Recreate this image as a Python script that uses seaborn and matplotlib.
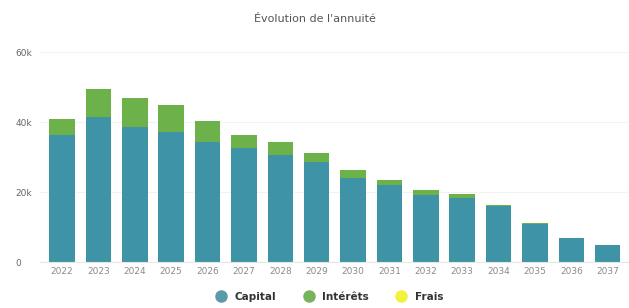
import matplotlib
matplotlib.use("Agg")
import matplotlib.pyplot as plt
from matplotlib.lines import Line2D
import seaborn as sns
import pandas as pd

years = [str(y) for y in range(2022, 2038)]
capital = [36.3, 41.4, 38.6, 37.1, 34.3, 32.6, 30.6, 28.6, 24.0, 22.0, 19.1, 18.3, 16.0, 11.0, 6.9, 4.9]
interets = [4.6, 8.0, 8.3, 7.7, 6.0, 3.7, 3.7, 2.6, 2.3, 1.4, 1.4, 1.1, 0.3, 0.1, 0.0, 0.0]
frais = [0.0] * 16

y_ticks = [0, 20, 40, 60]
y_labels = ["0", "20k", "40k", "60k"]

c_cap = "#3f93a6"
c_int = "#6db14a"
c_frais = "#f2f23c"

df = pd.DataFrame({"year": years, "capital": capital, "interets": interets, "frais": frais})
df["cap_int"] = df["capital"] + df["interets"]
df["total"] = df["cap_int"] + df["frais"]

sns.set_style("white")
fig = plt.figure(figsize=(6.29, 3.08), dpi=100)
ax = fig.add_axes([0.064, 0.149, 0.934, 0.682])

# stacked look: draw totals first, then overlay the lower parts
for col, c in [("total", c_frais), ("cap_int", c_int), ("capital", c_cap)]:
    sns.barplot(data=df, x="year", y=col, color=c, width=0.7, saturation=1,
                linewidth=0, edgecolor="none", ax=ax)

ax.set_ylim(0, 60)
ax.set_xlim(-0.6, 15.55)
ax.set_yticks(y_ticks)
ax.set_yticklabels(y_labels)
ax.yaxis.grid(True, color="#f2f2f2", linewidth=0.8)
ax.set_axisbelow(True)
ax.tick_params(axis="both", length=0, labelsize=6.5, colors="#8a8a8a")
ax.tick_params(axis="y", pad=18, colors="#666666")
for lab in ax.get_yticklabels():
    lab.set_horizontalalignment("left")
ax.set_xlabel("")
ax.set_ylabel("")
for s in ["top", "right", "left"]:
    ax.spines[s].set_visible(False)
ax.spines["bottom"].set_color("#e6e6e6")

fig.suptitle("Évolution de l'annuité", y=0.955, fontsize=8, color="#555555")

handles = [
    Line2D([], [], marker="o", linestyle="", markersize=8, color="#5a9aab", label="Capital"),
    Line2D([], [], marker="o", linestyle="", markersize=8, color="#77b35a", label="Intérêts"),
    Line2D([], [], marker="o", linestyle="", markersize=8, color=c_frais, label="Frais"),
]
fig.legend(handles=handles, loc="lower center", bbox_to_anchor=(0.52, -0.01), ncol=3,
           frameon=False, handletextpad=0.3, columnspacing=2.1,
           labelcolor="#333333", prop={"weight": "bold", "size": 7.5})

fig.savefig("out.png", dpi=100)
